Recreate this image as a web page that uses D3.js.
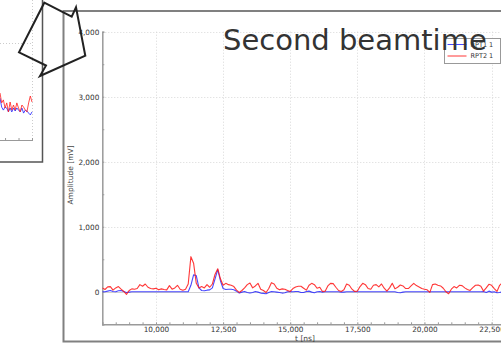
<!DOCTYPE html>
<html>
<head>
<meta charset="utf-8">
<script src="https://cdn.jsdelivr.net/npm/d3@7"></script>
<style>
  body { margin: 0; background: #fff; }
  svg { display: block; font-family: "DejaVu Sans", sans-serif; }
</style>
</head>
<body>
<div id="chart"></div>
<script>
// sample time base of the scope traces (ns)
var tStart = 8000;
var tStep = 100;

// RPT2 1 (red), mV, one value per 100 ns from 8000 ns
var rpt2 = [
  60, 35, 75, 80, 25, 60, 80, 40, 5, -40,
  20, 45, 40, 50, 110, 85, 120, 70, 50, 45,
  55, 30, 45, 35, 30, 95, 40, 60, 100, 40,
  25, 40, 120, 540, 440, 130, 60, 80, 60, 110,
  70, 120, 270, 355, 200, 100, 130, 110, 100, 80,
  25, -10, 20, 60, 110, 135, 60, 90, 130, 40,
  20, -10, 50, 140, 120, 55, 30, 45, 40, 20,
  5, 50, 75, 85, 85, 55, 25, 100, 130, 110,
  55, 70, 5, 10, 90, 130, 125, 70, 20, 5,
  30, 120, 100, 40, 5, 10, 80, 130, 110, 50,
  40, 100, 110, 75, 120, 55, 10, 60, 130, 45,
  70, 105, 90, 50, 50, 90, 130, 95, 75, 50,
  40, 30, -10, 110, 120, 100, 90, 55, 0, -30,
  40, 80, 60, 100, 95, 60, 35, 20, 65, 100,
  105, 85, 10, 60, 115, 100, 50, 5, 100, 140,
  120
];

// RPT1 1 (blue)
var rpt1 = [
  0, 0, 10, 20, 5, 0, 15, 20, 5, -10,
  -5, 0, 0, 0, 0, 0, 0, 0, 0, 0,
  0, 0, 0, 0, 0, 0, 0, 0, 0, 0,
  0, 0, 0, 100, 260, 250, 60, 20, 15, 25,
  30, 60, 200, 340, 170, 50, 35, 40, 40, 30,
  10, -20, -5, 5, -10, -20, -10, 5, -5, -20,
  -25, -30, -10, 5, 0, -5, -10, -20, -15, 0,
  5, 0, 5, 5, -10, -10, 5, 10, -5, -15,
  0, 5, -5, 0, 0, 0, 0, 0, 0, -5,
  -5, 0, 0, 0, 0, 0, 0, 0, 0, 0,
  0, 0, 0, 0, 0, 0, 0, 0, 0, 0,
  -10, -15, -5, 0, 0, 0, 0, 0, 0, 0,
  0, 0, 0, 0, 0, 0, 0, 0, 0, 0,
  0, 0, 0, 0, 0, 0, 0, 0, 0, 0,
  0, 0, 5, -10, 10, -5, 0, -15, -10, 0,
  0
];

var seriesNames = ['RPT1 1', 'RPT2 1'];
var xTicks = [10000, 12500, 15000, 17500, 20000, 22500];
var yTicks = [0, 1000, 2000, 3000, 4000];

// the cut-off thumbnail on the left (its own units)
var thumbRed = [90, 57, 67, 40, 57, 27, 60, 33, 50, 33, 57, 40, 27, 50, 43, 33, 27, 57, 80, 60];
var thumbBlue = [73, 43, 33, 43, 40, 27, 40, 27, 40, 30, 40, 33, 27, 40, 23, 33, 30, 23, 17, 27];
var thumbTicks = [3, 11, 19];

var width = 501, height = 344;

var svg = d3.select('#chart').append('svg')
  .attr('width', width)
  .attr('height', height);

// ---------- thumbnail ----------
var tx = d3.scaleLinear().domain([0, 19]).range([0, 32]);
var ty = d3.scaleLinear().domain([0, 100]).range([120, 90]);

var thumb = svg.append('g');
thumb.append('line')
  .attr('x1', 0).attr('x2', 32.5).attr('y1', 43.5).attr('y2', 43.5)
  .attr('stroke', '#ccc').attr('stroke-dasharray', '1,2');
thumb.append('line')
  .attr('x1', 32.5).attr('x2', 32.5).attr('y1', 0).attr('y2', 140)
  .attr('stroke', '#ccc').attr('stroke-dasharray', '1,2');
thumb.append('line')
  .attr('x1', 0).attr('x2', 33).attr('y1', 140.5).attr('y2', 140.5)
  .attr('stroke', '#999');
thumb.selectAll('.ttick')
  .data(thumbTicks)
  .enter().append('line')
  .attr('x1', function(d) { return tx(d) + 0.5; })
  .attr('x2', function(d) { return tx(d) + 0.5; })
  .attr('y1', 140.5).attr('y2', 138)
  .attr('stroke', '#999');

var tline = d3.line()
  .x(function(d, i) { return tx(i); })
  .y(function(d) { return ty(d); });

thumb.append('path').datum(thumbBlue)
  .attr('d', tline).attr('fill', 'none')
  .attr('stroke', 'rgba(30,30,255,0.8)').attr('stroke-width', 1);
thumb.append('path').datum(thumbRed)
  .attr('d', tline).attr('fill', 'none')
  .attr('stroke', 'rgba(255,30,30,0.8)').attr('stroke-width', 1);

thumb.append('path')
  .attr('d', 'M-2,162 L42.5,162 L42.5,-2')
  .attr('fill', 'none').attr('stroke', '#555').attr('stroke-width', 1.5);

// ---------- main chart ----------
svg.append('rect')
  .attr('x', 63.5).attr('y', 11)
  .attr('width', 520).attr('height', 330.5)
  .attr('fill', '#fff')
  .attr('stroke', '#808080').attr('stroke-width', 2);

var x = d3.scaleLinear().domain([8000, 23100]).range([102.3, 507.7]);
var y = d3.scaleLinear().domain([-500, 4000]).range([324.3, 31.7]);

var plot = svg.append('g');

svg.append('clipPath').attr('id', 'clip')
  .append('rect')
  .attr('x', x.range()[0]).attr('y', y.range()[1])
  .attr('width', x.range()[1] - x.range()[0])
  .attr('height', y.range()[0] - y.range()[1]);

// grid
plot.selectAll('.vgrid')
  .data(xTicks)
  .enter().append('line')
  .attr('x1', function(d) { return Math.round(x(d)) + 0.5; })
  .attr('x2', function(d) { return Math.round(x(d)) + 0.5; })
  .attr('y1', y.range()[1]).attr('y2', y.range()[0])
  .attr('stroke', '#d8d8d8').attr('stroke-dasharray', '1,2');

plot.selectAll('.hgrid')
  .data(yTicks)
  .enter().append('line')
  .attr('x1', x.range()[0]).attr('x2', x.range()[1])
  .attr('y1', function(d) { return Math.round(y(d)) + 0.5; })
  .attr('y2', function(d) { return Math.round(y(d)) + 0.5; })
  .attr('stroke', function(d) { return d === 0 ? '#cfcfcf' : '#d8d8d8'; })
  .attr('stroke-dasharray', function(d) { return d === 0 ? null : '1,2'; });

// axes
var xAxis = d3.axisBottom(x)
  .tickValues(d3.range(8500, 23100, 500))
  .tickSize(-2)
  .tickFormat(function(d) { return xTicks.indexOf(d) >= 0 ? d3.format(',')(d) : ''; });
var yAxis = d3.axisLeft(y)
  .tickValues(d3.range(-500, 4001, 500))
  .tickSize(-2)
  .tickFormat(function(d) { return yTicks.indexOf(d) >= 0 ? d3.format(',')(d) : ''; });

var gx = plot.append('g')
  .attr('transform', 'translate(0,' + y.range()[0] + ')')
  .call(xAxis);
var gy = plot.append('g')
  .attr('transform', 'translate(' + x.range()[0] + ',0)')
  .call(yAxis);

[gx, gy].forEach(function(g) {
  g.select('.domain').attr('stroke', '#9a9a9a').attr('stroke-width', 1.5);
  g.selectAll('.tick line').attr('stroke', '#9a9a9a');
  g.selectAll('.tick text')
    .attr('fill', '#333')
    .attr('font-size', '7.3px')
    .attr('font-family', 'DejaVu Sans');
});
gx.selectAll('.tick text').attr('dy', '0.5em').attr('y', 4);
gy.selectAll('.tick text').attr('x', -3);

// traces
var line = d3.line()
  .x(function(d, i) { return x(tStart + i * tStep); })
  .y(function(d) { return y(d); });

var colors = d3.scaleOrdinal()
  .domain(seriesNames)
  .range(['rgba(40,40,255,0.85)', 'rgba(255,20,20,0.85)']);

var traces = plot.append('g').attr('clip-path', 'url(#clip)');
traces.selectAll('.trace')
  .data([rpt1, rpt2])
  .enter().append('path')
  .attr('class', 'trace')
  .attr('d', line)
  .attr('fill', 'none')
  .attr('stroke', function(d, i) { return colors(seriesNames[i]); })
  .attr('stroke-width', 1.1)
  .attr('stroke-linejoin', 'round');

// axis titles
svg.append('text')
  .attr('transform', 'translate(72.5,175) rotate(-90)')
  .attr('text-anchor', 'middle')
  .attr('font-size', '7.5px')
  .attr('fill', '#444')
  .text('Amplitude [mV]');

svg.append('text')
  .attr('x', 305).attr('y', 341)
  .attr('text-anchor', 'middle')
  .attr('font-size', '7.5px')
  .attr('fill', '#444')
  .text('t [ns]');

// legend
var legend = svg.append('g').attr('transform', 'translate(444.5,38.5)');
legend.append('rect')
  .attr('width', 56).attr('height', 25)
  .attr('fill', '#fff').attr('stroke', '#999').attr('stroke-width', 1);
var item = legend.selectAll('.item')
  .data(seriesNames)
  .enter().append('g')
  .attr('transform', function(d, i) { return 'translate(0,' + (6 + i * 11.5) + ')'; });
item.append('line')
  .attr('x1', 3).attr('x2', 22)
  .attr('stroke', function(d) { return colors(d); })
  .attr('stroke-width', 1);
item.append('text')
  .attr('x', 26).attr('dy', '0.35em')
  .attr('font-size', '6.5px')
  .attr('fill', '#333')
  .text(function(d) { return d; });

// title
svg.append('text')
  .attr('x', 223).attr('y', 50)
  .attr('font-size', '29px')
  .attr('fill', '#333')
  .text('Second beamtime');

// callout arrow over everything
var arrowPts = [[44.3, 2.7], [71.7, 16.7], [76, 7.3], [85.3, 55.7], [40, 76], [46, 65.5], [19, 52.3]];
svg.append('path')
  .attr('d', d3.line()(arrowPts) + 'Z')
  .attr('fill', 'none')
  .attr('stroke', '#222')
  .attr('stroke-width', 2)
  .attr('stroke-linejoin', 'miter');
</script>
</body>
</html>
